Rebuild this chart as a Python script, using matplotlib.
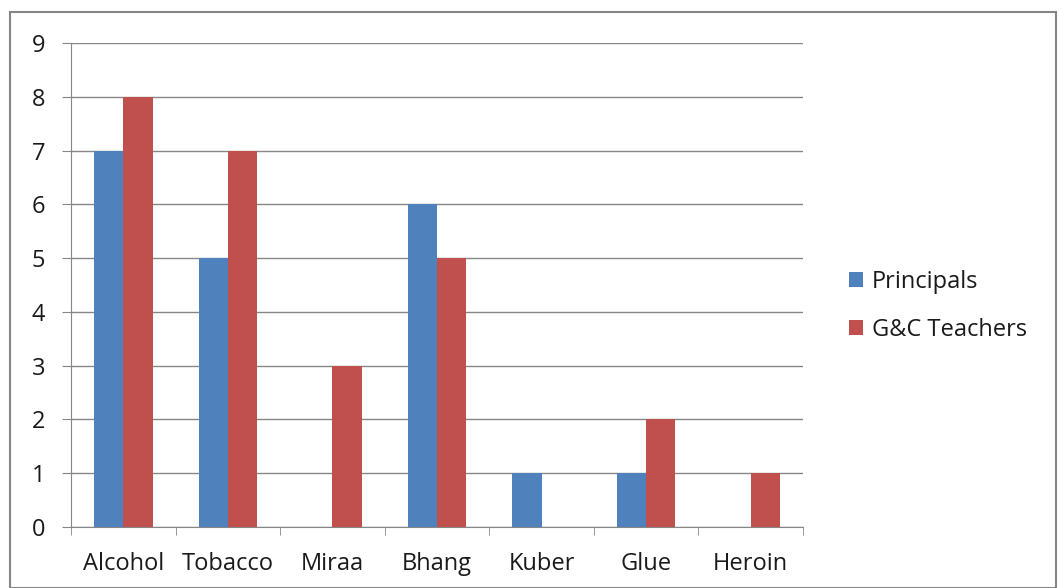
import numpy as np
import matplotlib.pyplot as plt
from matplotlib.patches import Rectangle

categories = ['Alcohol', 'Tobacco', 'Miraa', 'Bhang', 'Kuber', 'Glue', 'Heroin']
principals = [7, 5, 0, 6, 1, 1, 0]
gc_teachers = [8, 7, 3, 5, 0, 2, 1]

plt.rcParams['font.family'] = ['Open Sans', 'DejaVu Sans']

fig = plt.figure(figsize=(10.61, 5.88), dpi=100)
ax = fig.add_axes([71/1061, 1-527/588, (803-71)/1061, (527-43)/588])

x = np.arange(len(categories))
w = 0.28
ax.bar(x - w/2, principals, w, color='#4F81BD', label='Principals', zorder=3)
ax.bar(x + w/2, gc_teachers, w, color='#C0504D', label='G&C Teachers', zorder=3)

ax.set_xlim(-0.5, len(categories) - 0.5)
ax.set_ylim(0, 9)
ax.set_yticks(range(10))
ax.yaxis.grid(True, color='#868686', linewidth=1, zorder=0)
ax.set_xticks(x)
ax.set_xticklabels(categories)
ax.set_xticks(np.arange(-0.5, len(categories)), minor=True)
ax.tick_params(axis='x', which='major', length=0, labelsize=17, pad=18, labelcolor='#1a1a1a')
ax.tick_params(axis='x', which='minor', length=6, color='#868686')
ax.tick_params(axis='y', length=6.5, color='#868686', labelsize=17, pad=12, labelcolor='#1a1a1a')

for s in ['top', 'right']:
    ax.spines[s].set_visible(False)
ax.spines['left'].set_color('#868686')
ax.spines['bottom'].set_color('#868686')

ax.legend(loc='center left', bbox_to_anchor=(828/1061, 1-306/588),
          bbox_transform=fig.transFigure, frameon=False, fontsize=17,
          handlelength=0.6, handleheight=0.6, labelspacing=1.0, handletextpad=0.35,
          labelcolor='#1a1a1a')

fig.patches.append(Rectangle((10/1061, 0), 1046/1061, 1-12/588, transform=fig.transFigure,
                             fill=False, edgecolor='#868686', linewidth=1.5))

fig.savefig('out.png', dpi=100)
